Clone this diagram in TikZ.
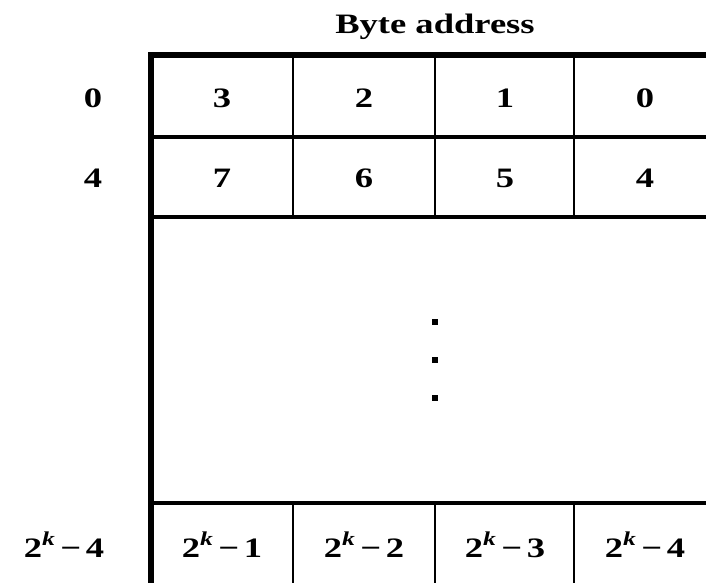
\documentclass[tikz,border=0pt]{standalone}
\usepackage{fontspec}
\setmainfont{Liberation Serif}[FakeStretch=1.3]
\begin{document}
\begin{tikzpicture}[
  x=0.02cm, y=-0.02cm,
  font=\fontsize{16}{18}\selectfont\bfseries,
  outer/.style={line width=3pt},
  rowline/.style={line width=2.3pt},
  colline/.style={line width=1.6pt},
  entry/.style={inner sep=0pt, anchor=base},
  dot/.style={fill=black}
]
\useasboundingbox (0,0) rectangle (706,582);
\clip (0,0) rectangle (706,582);

% heading
\node[entry] (title) at (435,33) {Byte address};

% row addresses
\node[entry] (addr0) at (93,107) {0};
\node[entry] (addr4) at (93,187) {4};
\node[entry] (addrk) at (64,557) {2\textsuperscript{\itshape k}\,−\,4};

% byte numbers
\foreach \b [count=\i from 0] in {222,364,505,645} {
  \pgfmathtruncatemacro{\hi}{3-\i}
  \pgfmathtruncatemacro{\lo}{7-\i}
  \pgfmathtruncatemacro{\kk}{\i+1}
  \node[entry] (first\i) at (\b,107) {\hi};
  \node[entry] (second\i) at (\b,187) {\lo};
  \node[entry] (last\i) at (\b,557) {2\textsuperscript{\itshape k}\,−\,\kk};
}

% grid
\draw[outer] (151,55) -- (716,55);
\draw[outer] (151,52) -- (151,590);
\draw[rowline] (151,137) -- (716,137);
\draw[rowline] (151,217) -- (716,217);
\draw[rowline] (151,503) -- (716,503);
\foreach \c in {293,435,574} {
  \draw[colline] (\c,55) -- (\c,217);
  \draw[colline] (\c,503) -- (\c,590);
}

% vertical ellipsis
\foreach \d in {322,360,398}
  \fill[dot] (432,\d-3) rectangle (438,\d+3);
\end{tikzpicture}
\end{document}
